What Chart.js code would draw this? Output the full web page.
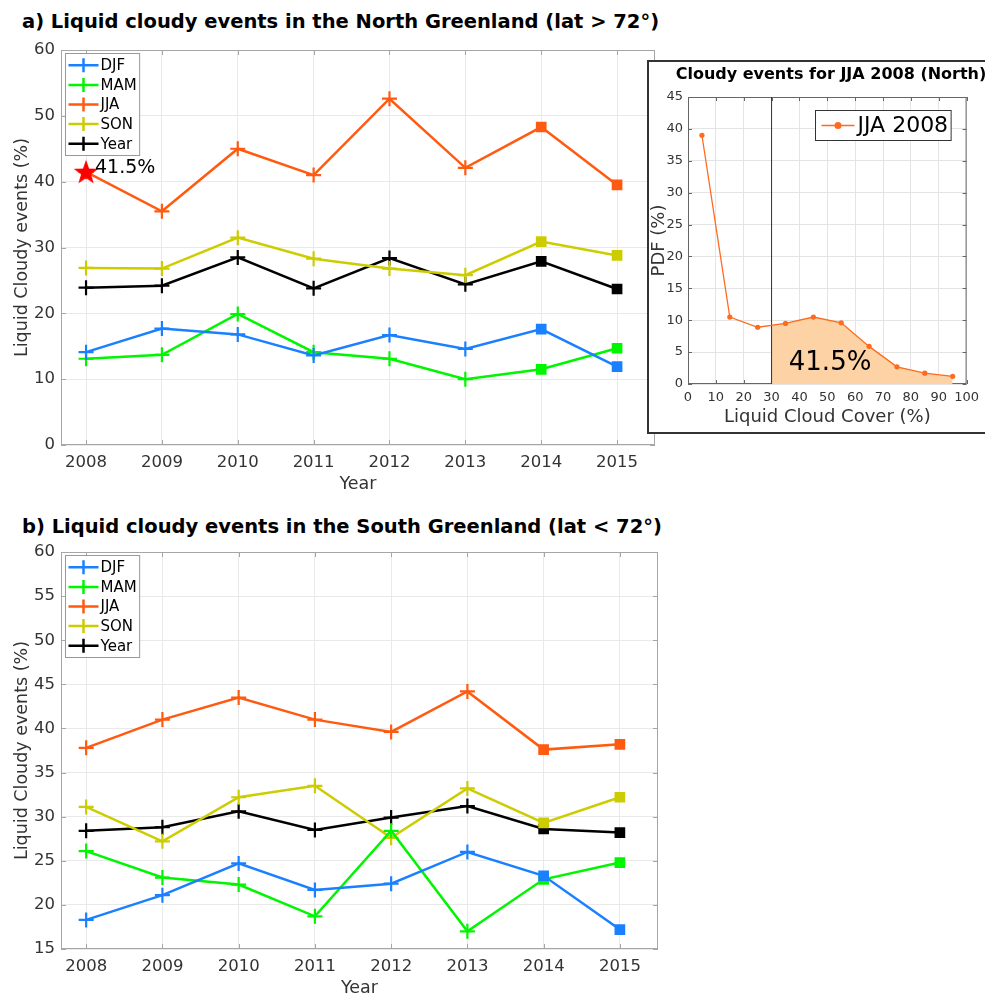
<!DOCTYPE html>
<html>
<head>
<meta charset="utf-8">
<script src="https://cdn.jsdelivr.net/npm/chart.js@4.4.1/dist/chart.umd.min.js"></script>
<style>
  html, body { margin: 0; padding: 0; background: #fff; overflow: hidden; }
  body { width: 985px; height: 996px; position: relative; font-family: "DejaVu Sans", sans-serif; }
  .title { position: absolute; font-weight: bold; font-size: 19.5px; color: #000; white-space: nowrap; line-height: 26px; }
  canvas { position: absolute; }
  #insetBox { position: absolute; left: 647px; top: 60px; width: 400px; height: 370px; border: 2px solid #333; background: #fff; z-index: 2; }
  #insetTitle { position: absolute; left: 631px; width: 400px; top: 62px; text-align: center; font-size: 16px; line-height: 24px; z-index: 3; }
</style>
</head>
<body>
<div class="title" style="left:22px; top:9px;">a) Liquid cloudy events in the North Greenland (lat &gt; 72°)</div>
<canvas id="north" width="668" height="470" style="left:0; top:30px;"></canvas>

<div id="insetBox"></div>
<div class="title" id="insetTitle">Cloudy events for JJA 2008 (North)</div>
<canvas id="inset" width="337" height="373" style="left:648px; top:60px; z-index:3;"></canvas>

<div class="title" style="left:22px; top:514px;">b) Liquid cloudy events in the South Greenland (lat &lt; 72°)</div>
<canvas id="south" width="668" height="472" style="left:0; top:532px;"></canvas>

<script>
// ---- data ----
const years = [2008, 2009, 2010, 2011, 2012, 2013, 2014, 2015];
const squareYears = [2014, 2015]; // drawn with filled squares instead of crosses
const seasons = ['DJF', 'MAM', 'JJA', 'SON', 'Year'];

const northDJF  = [14.1, 17.7, 16.8, 13.6, 16.7, 14.6, 17.6, 11.9];
const northMAM  = [13.1, 13.7, 19.9, 14.1, 13.1, 10.0, 11.5, 14.7];
const northJJA  = [41.5, 35.5, 45.0, 41.0, 52.6, 42.1, 48.3, 39.5];
const northSON  = [26.9, 26.8, 31.5, 28.3, 26.8, 25.8, 30.9, 28.8];
const northYear = [23.9, 24.2, 28.5, 23.8, 28.4, 24.4, 27.9, 23.7];

const southDJF  = [18.3, 21.1, 24.7, 21.7, 22.4, 26.0, 23.3, 17.2];
const southMAM  = [26.1, 23.1, 22.3, 18.7, 28.4, 17.0, 22.9, 24.8];
const southJJA  = [37.8, 41.0, 43.5, 41.0, 39.6, 44.2, 37.6, 38.2];
const southSON  = [31.1, 27.2, 32.2, 33.5, 27.6, 33.2, 29.3, 32.2];
const southYear = [28.4, 28.8, 30.6, 28.5, 29.9, 31.2, 28.6, 28.2];

const highlightYear = 2008;
const highlightValue = 41.5;
const highlightLabel = '41.5%';

// inset: PDF of liquid cloud cover, JJA 2008 north
const cloudCover = [5, 15, 25, 35, 45, 55, 65, 75, 85, 95];
const pdfJJA2008 = [39.0, 10.5, 8.9, 9.5, 10.5, 9.6, 5.9, 2.7, 1.7, 1.2];
const liquidThreshold = 30;
const insetLabel = '41.5%';

const seasonColors = ['#1a80ff', '#00f500', '#ff5a10', '#cccc00', '#000000'];
const TICK_COLOR = '#333';
const FONT = '"DejaVu Sans", sans-serif';

Chart.defaults.font.family = FONT;
Chart.defaults.animation = false;

// red pentagram used for the highlighted point
function makeStar(rOut, rIn, color) {
    const c = document.createElement('canvas');
    const s = Math.ceil(rOut * 2 + 2);
    c.width = s; c.height = s;
    const g = c.getContext('2d');
    g.fillStyle = color;
    g.beginPath();
    for (let i = 0; i < 10; i++) {
        const r = i % 2 === 0 ? rOut : rIn;
        const a = -Math.PI / 2 + i * Math.PI / 5;
        const px = s / 2 + r * Math.cos(a), py = s / 2 + r * Math.sin(a) + 1;
        if (i === 0) g.moveTo(px, py); else g.lineTo(px, py);
    }
    g.closePath();
    g.fill();
    return c;
}
const starImg = makeStar(13, 5.2, '#ff0000');

// matlab-like axes box with inward ticks
function axesBox(color, tickLen) {
    return {
        id: 'axesBox',
        beforeDatasetsDraw(chart) {
            const { ctx, chartArea: a, scales } = chart;
            ctx.save();
            ctx.strokeStyle = color;
            ctx.lineWidth = 1;
            ctx.strokeRect(a.left + 0.5, a.top + 0.5, a.width - 1, a.height - 1);
            ctx.beginPath();
            scales.x.ticks.forEach((t, i) => {
                const x = Math.round(scales.x.getPixelForTick(i)) + 0.5;
                ctx.moveTo(x, a.bottom); ctx.lineTo(x, a.bottom - tickLen);
                ctx.moveTo(x, a.top); ctx.lineTo(x, a.top + tickLen);
            });
            scales.y.ticks.forEach((t, i) => {
                const y = Math.round(scales.y.getPixelForTick(i)) + 0.5;
                ctx.moveTo(a.left, y); ctx.lineTo(a.left + tickLen, y);
                ctx.moveTo(a.right, y); ctx.lineTo(a.right - tickLen, y);
            });
            ctx.stroke();
            ctx.restore();
        }
    };
}

// legend box drawn inside the plot area (top left), like matlab 'northwest'
function boxLegend(o) {
    return {
        id: 'boxLegend',
        afterDraw(chart) {
            const { ctx, chartArea: a } = chart;
            const items = o.indices.map(i => chart.data.datasets[i]);
            ctx.save();
            ctx.font = o.font;
            const textW = Math.max(...items.map(d => ctx.measureText(d.label).width));
            const x0 = Math.round(a.left + o.dx) + 0.5, y0 = Math.round(a.top + o.dy) + 0.5;
            const w = o.padL + o.lineLen + o.gap + textW + o.padR;
            const h = items.length * o.row + o.padV * 2;
            ctx.fillStyle = '#fff';
            ctx.fillRect(x0, y0, w, h);
            ctx.strokeStyle = o.boxColor;
            ctx.lineWidth = 1;
            ctx.strokeRect(x0, y0, w, h);
            items.forEach((d, k) => {
                const cy = y0 + o.padV + o.row * (k + 0.5);
                const lx = x0 + o.padL;
                const mx = lx + o.lineLen / 2;
                ctx.strokeStyle = d.borderColor;
                ctx.lineWidth = d.borderWidth;
                ctx.beginPath();
                ctx.moveTo(lx, cy); ctx.lineTo(lx + o.lineLen, cy);
                if (o.marker === 'cross') { ctx.moveTo(mx, cy - o.ms); ctx.lineTo(mx, cy + o.ms); }
                ctx.stroke();
                if (o.marker === 'dot') {
                    ctx.fillStyle = d.borderColor;
                    ctx.beginPath(); ctx.arc(mx, cy, o.ms, 0, Math.PI * 2); ctx.fill();
                }
                ctx.fillStyle = '#000';
                ctx.textBaseline = 'middle';
                ctx.textAlign = 'left';
                ctx.fillText(d.label, lx + o.lineLen + o.gap, cy + 1);
            });
            ctx.restore();
        }
    };
}

function seasonDataset(label, values, color) {
    const isSquare = years.map(y => squareYears.includes(y));
    return {
        label: label,
        data: values,
        borderColor: color,
        backgroundColor: color,
        borderWidth: 2.5,
        pointStyle: isSquare.map(s => s ? 'rect' : 'cross'),
        pointRadius: isSquare.map(s => s ? 6 : 7.5),
        pointBorderWidth: 2.2,
        pointBackgroundColor: color,
        pointBorderColor: color,
        tension: 0,
        fill: false
    };
}

function yearChart(canvasId, series, yMin, yMax, yStep, extraDatasets, extraPlugins) {
    const datasets = seasons.map((s, i) => seasonDataset(s, series[i], seasonColors[i]));
    return new Chart(document.getElementById(canvasId), {
        type: 'line',
        data: { labels: years, datasets: datasets.concat(extraDatasets || []) },
        options: {
            responsive: false,
            layout: { padding: { top: 20, right: 10, left: 0, bottom: 0 } },
            plugins: { legend: { display: false }, tooltip: { enabled: false } },
            scales: {
                x: {
                    type: 'linear',
                    min: 2007.67, max: 2015.5,
                    afterBuildTicks(scale) { scale.ticks = years.map(v => ({ value: v })); },
                    grid: { color: '#e9e9e9', drawTicks: false },
                    border: { display: false },
                    ticks: { color: TICK_COLOR, font: { size: 16.5 }, padding: 8, maxRotation: 0, callback: v => String(v) },
                    title: { display: true, text: 'Year', color: TICK_COLOR, font: { size: 17.5 }, padding: { top: 0, bottom: 5 } },
                    afterFit(scale) { scale.height = 55; }
                },
                y: {
                    min: yMin, max: yMax,
                    grid: { color: '#e9e9e9', drawTicks: false },
                    border: { display: false },
                    ticks: { stepSize: yStep, color: TICK_COLOR, font: { size: 16.5 }, padding: 6 },
                    title: { display: true, text: 'Liquid Cloudy events (%)', color: TICK_COLOR, font: { size: 17.5 }, padding: { top: 12, bottom: 0 } },
                    afterFit(scale) { scale.width = 61; }
                }
            }
        },
        plugins: [
            axesBox('#a6a6a6', 5),
            boxLegend({ indices: [0, 1, 2, 3, 4], dx: 4, dy: 3, padL: 3, padR: 3, padV: 2, row: 19.6,
                        lineLen: 30, gap: 2, ms: 7, marker: 'cross', font: '15px ' + FONT, boxColor: '#999' })
        ].concat(extraPlugins || [])
    });
}

// ---- a) north ----
const highlightDataset = {
    label: 'highlight',
    data: years.map(y => y === highlightYear ? highlightValue : null),
    pointStyle: starImg,
    pointRadius: 12,
    showLine: false,
    order: -1,
    borderColor: '#ff0000',
    backgroundColor: '#ff0000'
};
const highlightText = {
    id: 'highlightText',
    afterDatasetsDraw(chart) {
        const meta = chart.getDatasetMeta(5);
        const el = meta.data[years.indexOf(highlightYear)];
        const ctx = chart.ctx;
        ctx.save();
        ctx.font = '19px ' + FONT;
        ctx.fillStyle = '#000';
        ctx.textBaseline = 'middle';
        ctx.textAlign = 'left';
        ctx.fillText(highlightLabel, el.x + 9, el.y - 4);
        ctx.restore();
    }
};
yearChart('north', [northDJF, northMAM, northJJA, northSON, northYear], 0, 60, 10, [highlightDataset], [highlightText]);

// ---- b) south ----
yearChart('south', [southDJF, southMAM, southJJA, southSON, southYear], 15, 60, 5);

// ---- inset: PDF ----
const pdfPoints = cloudCover.map((c, i) => ({ x: c, y: pdfJJA2008[i] }));
const areaClip = {
    id: 'areaClip',
    beforeDatasetsDraw(chart) {
        const a = chart.chartArea;
        const x = chart.scales.x.getPixelForValue(liquidThreshold);
        chart.ctx.save();
        chart.ctx.beginPath();
        chart.ctx.rect(x, a.top, a.right - x, a.bottom - a.top);
        chart.ctx.clip();
    },
    beforeDatasetDraw(chart, args) {
        if (args.index === 2) chart.ctx.restore(); // filler has drawn the shaded area by now
    },
    afterDatasetsDraw(chart) {
        const ctx = chart.ctx;
        ctx.save();
        ctx.font = '26px ' + FONT;
        ctx.fillStyle = '#000';
        ctx.textAlign = 'center';
        ctx.textBaseline = 'middle';
        ctx.fillText(insetLabel, chart.scales.x.getPixelForValue(51), chart.scales.y.getPixelForValue(3.3));
        ctx.restore();
    }
};

new Chart(document.getElementById('inset'), {
    type: 'line',
    data: {
        datasets: [
            {
                label: 'JJA 2008', data: pdfPoints,
                borderColor: '#ff6a1f', backgroundColor: '#ff6a1f',
                borderWidth: 1.3, pointRadius: 2.6, pointBorderWidth: 0, pointStyle: 'circle', fill: false
            },
            {
                label: 'threshold',
                data: [{ x: liquidThreshold, y: 0 }, { x: liquidThreshold, y: 45 }],
                borderColor: '#333', borderWidth: 1, pointRadius: 0, fill: false
            },
            {
                label: 'area', data: pdfPoints,
                borderWidth: 0, borderColor: 'rgba(0,0,0,0)', pointRadius: 0,
                fill: 'origin', backgroundColor: '#fdd2a5'
            }
        ]
    },
    options: {
        responsive: false,
        layout: { padding: { top: 37, right: 15, left: 0, bottom: 0 } },
        plugins: { legend: { display: false }, tooltip: { enabled: false } },
        scales: {
            x: {
                type: 'linear', min: 0, max: 100,
                grid: { color: '#e4e4e4', drawTicks: false },
                border: { display: false },
                ticks: { stepSize: 10, color: TICK_COLOR, font: { size: 13 }, padding: 6, maxRotation: 0 },
                title: { display: true, text: 'Liquid Cloud Cover (%)', color: TICK_COLOR, font: { size: 18 }, padding: { top: 0, bottom: 5 } },
                afterFit(scale) { scale.height = 49; }
            },
            y: {
                min: 0, max: 45,
                grid: { color: '#e4e4e4', drawTicks: false },
                border: { display: false },
                ticks: { stepSize: 5, color: TICK_COLOR, font: { size: 13 }, padding: 5 },
                title: { display: true, text: 'PDF (%)', color: TICK_COLOR, font: { size: 18 }, padding: { top: 1, bottom: 0 } },
                afterFit(scale) { scale.width = 40; }
            }
        }
    },
    plugins: [
        axesBox('#666', 4),
        areaClip,
        boxLegend({ indices: [0], dx: 127, dy: 13, padL: 6, padR: 3, padV: 0, row: 30,
                    lineLen: 33, gap: 3, ms: 3.5, marker: 'dot', font: '22px ' + FONT, boxColor: '#333' })
    ]
});
</script>
</body>
</html>
